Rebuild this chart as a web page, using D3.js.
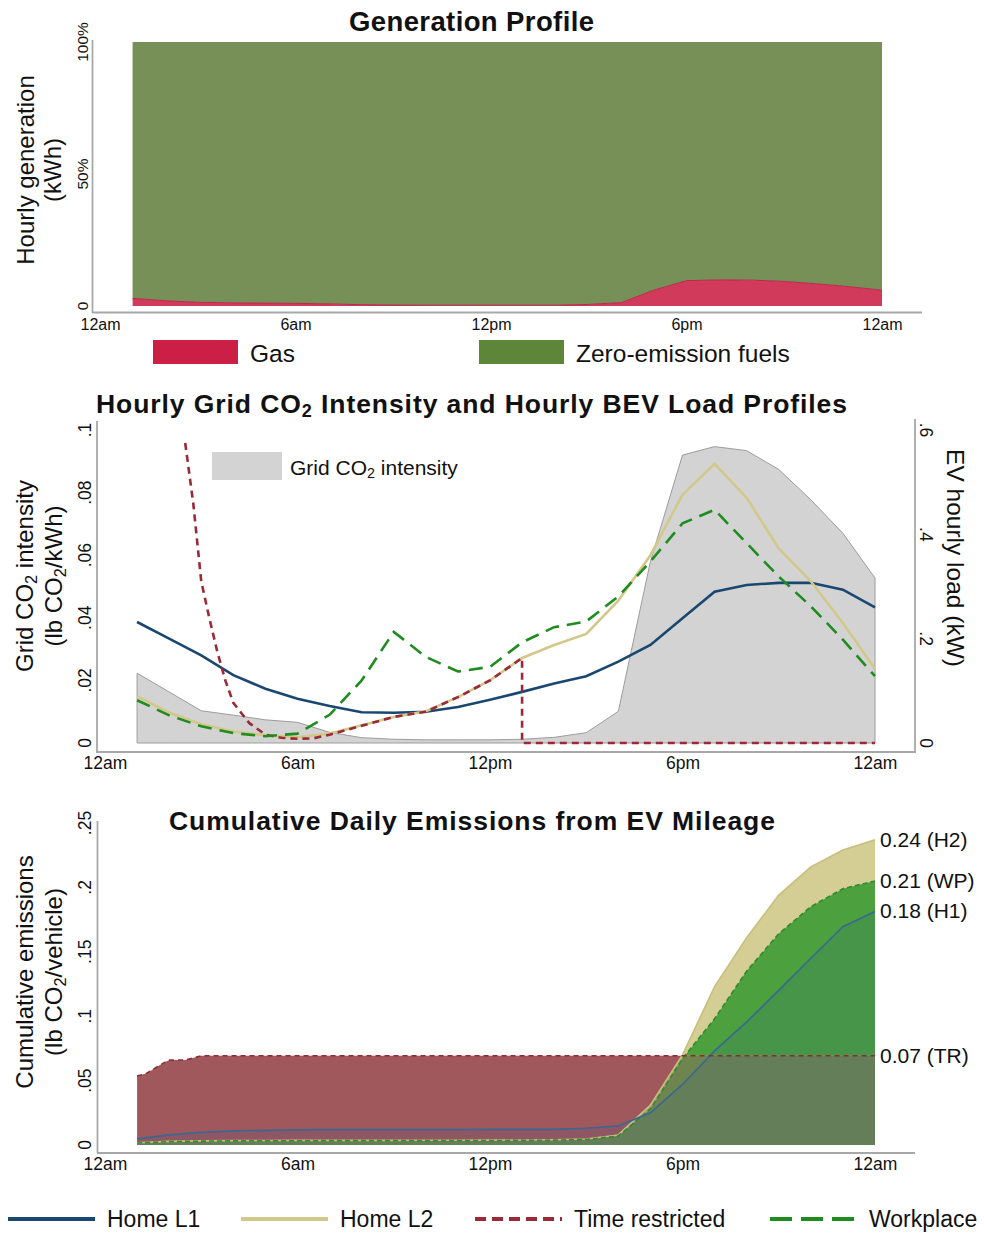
<!DOCTYPE html>
<html><head><meta charset="utf-8">
<script src="https://cdn.jsdelivr.net/npm/d3@7"></script>
<style>
body{margin:0;background:#fff}
svg{display:block}
text{font-family:"Liberation Sans",Arial,Helvetica,sans-serif;fill:#111}
</style>
</head><body>
<svg id="c" width="984" height="1235"></svg>
<script>
// ---------------- DATA ----------------
const hours = d3.range(1, 25);
const xTickValues = [0, 6, 12, 18, 24];
const xTickLabels = ["12am", "6am", "12pm", "6pm", "12am"];

// Panel 1: generation share (%) by hour
const gasShare = [2.9, 2.0, 1.4, 1.2, 1.1, 1.0, 0.8, 0.5, 0.35, 0.3, 0.3, 0.3, 0.3, 0.3, 0.6, 1.3, 6.0, 9.6, 9.9, 9.8, 9.3, 8.4, 7.3, 6.0];
const topYTicks = [0, 50, 100];
const topYLabels = ["0", "50%", "100%"];
const genLegend = ["Gas", "Zero-emission fuels"];

// Panel 2: grid CO2 intensity (lb CO2/kWh) and hourly EV loads (kW)
const gridIntensity = [0.0223, 0.0163, 0.0103, 0.0089, 0.0074, 0.0066, 0.0034, 0.0017, 0.0012, 0.001, 0.001, 0.001, 0.0012, 0.0018, 0.0033, 0.0101, 0.058, 0.092, 0.0947, 0.0934, 0.0874, 0.0777, 0.067, 0.0527];
const loadHomeL1 = [0.232, 0.200, 0.168, 0.130, 0.104, 0.085, 0.071, 0.059, 0.058, 0.060, 0.069, 0.083, 0.098, 0.114, 0.128, 0.156, 0.188, 0.239, 0.290, 0.303, 0.307, 0.307, 0.294, 0.260];
const loadHomeL2 = [0.090, 0.058, 0.036, 0.022, 0.015, 0.011, 0.018, 0.034, 0.050, 0.061, 0.088, 0.120, 0.163, 0.188, 0.209, 0.273, 0.360, 0.476, 0.535, 0.470, 0.373, 0.310, 0.230, 0.142];
const loadWorkplace = [0.082, 0.053, 0.032, 0.019, 0.013, 0.018, 0.054, 0.120, 0.213, 0.165, 0.137, 0.146, 0.193, 0.222, 0.233, 0.281, 0.348, 0.421, 0.447, 0.383, 0.319, 0.262, 0.198, 0.128];
const trLoadHours = [2.5, 2.75, 3, 3.25, 3.5, 3.75, 4, 4.5, 5, 5.5, 6, 6.5, 7, 8, 9, 10, 11, 12, 13, 13, 24];
const trLoad = [0.575, 0.46, 0.31, 0.24, 0.175, 0.12, 0.077, 0.038, 0.016, 0.010, 0.008, 0.009, 0.016, 0.033, 0.050, 0.060, 0.088, 0.120, 0.163, 0, 0];
const intYTicks = [0, 0.02, 0.04, 0.06, 0.08, 0.1];
const intYLabels = ["0", ".02", ".04", ".06", ".08", ".1"];
const loadYTicks = [0, 0.2, 0.4, 0.6];
const loadYLabels = ["0", ".2", ".4", ".6"];

// Panel 3: cumulative emissions (lb CO2/vehicle)
const cumHomeL1 = [0.0047, 0.0078, 0.0098, 0.0109, 0.0114, 0.0118, 0.012, 0.012, 0.012, 0.012, 0.012, 0.0121, 0.0121, 0.0122, 0.013, 0.0148, 0.025, 0.047, 0.073, 0.0955, 0.120, 0.145, 0.1695, 0.1813];
const cumHomeL2 = [0.0018, 0.0028, 0.0032, 0.0034, 0.0035, 0.0036, 0.0036, 0.0036, 0.0036, 0.0037, 0.0037, 0.0038, 0.0039, 0.0041, 0.0046, 0.0078, 0.031, 0.070, 0.123, 0.161, 0.194, 0.216, 0.229, 0.237];
const cumWorkplace = [0.0016, 0.0026, 0.003, 0.0032, 0.0033, 0.0033, 0.0034, 0.0034, 0.0034, 0.0034, 0.0035, 0.0035, 0.0036, 0.0038, 0.0043, 0.007, 0.028, 0.067, 0.098, 0.135, 0.164, 0.185, 0.199, 0.205];
const cumTRHours = [1, 1.3, 1.7, 2, 2.5, 3, 24];
const cumTR = [0.0536, 0.0557, 0.0619, 0.066, 0.066, 0.0692, 0.0692];
const cumYTicks = [0, 0.05, 0.1, 0.15, 0.2, 0.25];
const cumYLabels = ["0", ".05", ".1", ".15", ".2", ".25"];
const endLabels = ["0.24 (H2)", "0.21 (WP)", "0.18 (H1)", "0.07 (TR)"];
const endValues = [0.237, 0.205, 0.1813, 0.0692];

const legendNames = ["Home L1", "Home L2", "Time restricted", "Workplace"];

// ---------------- STYLE ----------------
const C = {
  navy: "#1a476f", khaki: "#d2c88a", tr: "#9a2a36", wp: "#1f8c1f",
  axis: "#a8a8a8", gas: "#d23a5c", gasLeg: "#cc1f45", zero: "#769058", zeroLeg: "#5e8638",
  gray: "#d3d3d3"
};

const svg = d3.select("#c");

function sub(sel, parts) {
  parts.forEach(p => {
    if (Array.isArray(p)) {
      sel.append("tspan").attr("font-size", "68%").attr("baseline-shift", "-22%").text(p[0]);
    } else {
      sel.append("tspan").text(p);
    }
  });
  return sel;
}
function hline(x1, x2, y) {
  svg.append("line").attr("x1", x1).attr("x2", x2).attr("y1", y).attr("y2", y)
    .attr("stroke", C.axis).attr("stroke-width", 1.8);
}
function vline(x, y1, y2) {
  svg.append("line").attr("x1", x).attr("x2", x).attr("y1", y1).attr("y2", y2)
    .attr("stroke", C.axis).attr("stroke-width", 1.8);
}
function xAxis(x, y, pad, size) {
  const g = svg.append("g").attr("transform", `translate(0,${y})`)
    .call(d3.axisBottom(x).tickValues(xTickValues).tickFormat((d, i) => xTickLabels[i]).tickSize(0).tickPadding(pad));
  g.select(".domain").remove();
  g.selectAll("text").attr("font-size", size).attr("font-family", '"Liberation Sans",Arial,sans-serif').attr("fill", "#111");
}
function yLabels(y, ticks, labels, xpos, size, rot) {
  svg.append("g").selectAll("text").data(ticks).join("text")
    .attr("transform", d => `translate(${xpos},${y(d)}) rotate(${rot})`)
    .attr("text-anchor", "middle").attr("font-size", size).text((d, i) => labels[i]);
}

// ---------------- PANEL 1 ----------------
const x1 = d3.scaleLinear([0, 24], [100, 882]);
const y1 = d3.scaleLinear([0, 100], [306, 42]);
const gen = hours.map((h, i) => ({h, g: gasShare[i]}));

svg.append("path").datum(gen)
  .attr("d", d3.area().x(d => x1(d.h)).y0(d => y1(d.g)).y1(y1(100)))
  .attr("fill", C.zero);
svg.append("path").datum(gen)
  .attr("d", d3.area().x(d => x1(d.h)).y0(y1(0)).y1(d => y1(d.g)))
  .attr("fill", C.gas);
svg.append("path").datum(gen)
  .attr("d", d3.line().x(d => x1(d.h)).y(d => y1(d.g)))
  .attr("fill", "none").attr("stroke", "#b8284a").attr("stroke-width", 1);

vline(92.5, 40, 313);
hline(92, 922, 312.5);
xAxis(x1, 313, 6, 16);
yLabels(y1, topYTicks, topYLabels, 88, 15.5, -90);

svg.append("text").attr("x", 471.5).attr("y", 31).attr("text-anchor", "middle")
  .attr("font-size", 27.5).attr("font-weight", "bold")
  .attr("textLength", 245).attr("lengthAdjust", "spacing").text("Generation Profile");
svg.append("text").attr("transform", "translate(34,170) rotate(-90)").attr("text-anchor", "middle")
  .attr("font-size", 24).text("Hourly generation");
svg.append("text").attr("transform", "translate(61,170) rotate(-90)").attr("text-anchor", "middle")
  .attr("font-size", 24).text("(kWh)");

// legend
const genLegColors = [C.gasLeg, C.zeroLeg];
const genLegX = [153, 479];
genLegend.forEach((t, i) => {
  svg.append("rect").attr("x", genLegX[i]).attr("y", 340).attr("width", 85).attr("height", 24).attr("fill", genLegColors[i]);
  svg.append("text").attr("x", genLegX[i] + 97).attr("y", 362).attr("font-size", 24.5).text(t);
});

// ---------------- PANEL 2 ----------------
const x2 = d3.scaleLinear([0, 24], [105, 875]);
const yI = d3.scaleLinear([0, 0.1], [743, 430]);
const yL = d3.scaleLinear([0, 0.6], [743, 430]);

const gridData = hours.map((h, i) => ({h, v: gridIntensity[i]}));
svg.append("path").datum(gridData)
  .attr("d", d3.area().x(d => x2(d.h)).y0(yI(0)).y1(d => yI(d.v)))
  .attr("fill", C.gray).attr("stroke", "#9c9c9c").attr("stroke-width", 1);

const lineL = d3.line().x(d => x2(d[0])).y(d => yL(d[1]));
svg.append("path").datum(hours.map((h, i) => [h, loadHomeL1[i]])).attr("d", lineL)
  .attr("fill", "none").attr("stroke", C.navy).attr("stroke-width", 2.6);
svg.append("path").datum(hours.map((h, i) => [h, loadHomeL2[i]])).attr("d", lineL)
  .attr("fill", "none").attr("stroke", C.khaki).attr("stroke-width", 2.6);
svg.append("path").datum(trLoadHours.map((h, i) => [h, trLoad[i]])).attr("d", lineL)
  .attr("fill", "none").attr("stroke", C.tr).attr("stroke-width", 2.6).attr("stroke-dasharray", "7,5");
svg.append("path").datum(hours.map((h, i) => [h, loadWorkplace[i]])).attr("d", lineL)
  .attr("fill", "none").attr("stroke", C.wp).attr("stroke-width", 2.6).attr("stroke-dasharray", "14,8");

vline(97, 421, 752);
vline(915, 419, 752);
hline(96, 916, 752);
xAxis(x2, 752, 5, 17.5);
yLabels(yI, intYTicks, intYLabels, 91, 17.5, -90);
yLabels(yL, loadYTicks, loadYLabels, 920, 17.5, 90);

sub(svg.append("text").attr("x", 471.5).attr("y", 413).attr("text-anchor", "middle")
  .attr("font-size", 26.5).attr("font-weight", "bold")
  .attr("textLength", 751).attr("lengthAdjust", "spacing"), ["Hourly Grid CO", ["2"], " Intensity and Hourly BEV Load Profiles"]);
sub(svg.append("text").attr("transform", "translate(33,576) rotate(-90)").attr("text-anchor", "middle")
  .attr("font-size", 24), ["Grid CO", ["2"], " intensity"]);
sub(svg.append("text").attr("transform", "translate(62,576) rotate(-90)").attr("text-anchor", "middle")
  .attr("font-size", 24), ["(lb CO", ["2"], "/kWh)"]);
svg.append("text").attr("transform", "translate(947,558) rotate(90)").attr("text-anchor", "middle")
  .attr("font-size", 24.5).text("EV hourly load (kW)");

svg.append("rect").attr("x", 212).attr("y", 452).attr("width", 70).attr("height", 28).attr("fill", C.gray);
sub(svg.append("text").attr("x", 290).attr("y", 475).attr("font-size", 21), ["Grid CO", ["2"], " intensity"]);

// ---------------- PANEL 3 ----------------
const x3 = d3.scaleLinear([0, 24], [105, 875]);
const y3 = d3.scaleLinear([0, 0.25], [1145, 823]);

const trData = cumTRHours.map((h, i) => [h, cumTR[i]]);
const defs = svg.append("defs");
defs.append("clipPath").attr("id", "aboveTR").append("path").datum(trData)
  .attr("d", d3.area().x(d => x3(d[0])).y0(y3(0.3)).y1(d => y3(d[1])));
defs.append("clipPath").attr("id", "belowTR").append("path").datum(trData)
  .attr("d", d3.area().x(d => x3(d[0])).y0(y3(-0.01)).y1(d => y3(d[1])));

const areaC = d3.area().x(d => x3(d[0])).y0(y3(0)).y1(d => y3(d[1]));
const lineC = d3.line().x(d => x3(d[0])).y(d => y3(d[1]));
const h2Data = hours.map((h, i) => [h, cumHomeL2[i]]);
const wpData = hours.map((h, i) => [h, cumWorkplace[i]]);
const h1Data = hours.map((h, i) => [h, cumHomeL1[i]]);

svg.append("path").datum(trData).attr("d", areaC).attr("fill", "#a0585c");
svg.append("path").datum(h2Data).attr("d", areaC).attr("fill", "#d4cd94").attr("clip-path", "url(#aboveTR)");
svg.append("path").datum(h2Data).attr("d", areaC).attr("fill", "#ad9a74").attr("clip-path", "url(#belowTR)");
svg.append("path").datum(wpData).attr("d", areaC).attr("fill", "#4ca03e").attr("clip-path", "url(#aboveTR)");
svg.append("path").datum(wpData).attr("d", areaC).attr("fill", "#6e8550").attr("clip-path", "url(#belowTR)");
svg.append("path").datum(h1Data).attr("d", areaC).attr("fill", "rgba(40,90,140,0.15)");

svg.append("path").datum(h2Data).attr("d", lineC).attr("fill", "none").attr("stroke", "#c8bf7e").attr("stroke-width", 1.6);
svg.append("path").datum(wpData).attr("d", lineC).attr("fill", "none").attr("stroke", "#2e8a2e").attr("stroke-width", 1.6).attr("stroke-dasharray", "5,3");
svg.append("path").datum(h1Data).attr("d", lineC).attr("fill", "none").attr("stroke", "#3a6890").attr("stroke-width", 1.7);
svg.append("path").datum(trData).attr("d", lineC).attr("fill", "none").attr("stroke", "#8e2a33").attr("stroke-width", 1.5).attr("stroke-dasharray", "5,4");

vline(97.5, 821, 1153);
hline(97, 915, 1153);
xAxis(x3, 1153, 5, 17.5);
yLabels(y3, cumYTicks, cumYLabels, 91, 17.5, -90);

svg.append("text").attr("x", 472).attr("y", 830).attr("text-anchor", "middle")
  .attr("font-size", 26.5).attr("font-weight", "bold")
  .attr("textLength", 606).attr("lengthAdjust", "spacing").text("Cumulative Daily Emissions from EV Mileage");
svg.append("text").attr("transform", "translate(33,972) rotate(-90)").attr("text-anchor", "middle")
  .attr("font-size", 24).text("Cumulative emissions");
sub(svg.append("text").attr("transform", "translate(62,972) rotate(-90)").attr("text-anchor", "middle")
  .attr("font-size", 24), ["(lb CO", ["2"], "/vehicle)"]);

svg.append("g").selectAll("text").data(endValues).join("text")
  .attr("x", x3(24) + 5).attr("y", d => y3(d) + 7).attr("font-size", 21)
  .text((d, i) => endLabels[i]);

// ---------------- BOTTOM LEGEND ----------------
const legX = [8, 241, 475, 770];
const legStroke = [C.navy, C.khaki, C.tr, C.wp];
const legDash = [null, null, "11,6", "22,9"];
legendNames.forEach((t, i) => {
  svg.append("line").attr("x1", legX[i]).attr("x2", legX[i] + 87).attr("y1", 1219).attr("y2", 1219)
    .attr("stroke", legStroke[i]).attr("stroke-width", 4).attr("stroke-dasharray", legDash[i]);
  svg.append("text").attr("x", legX[i] + 99).attr("y", 1227).attr("font-size", 23).text(t);
});
</script>
</body></html>
